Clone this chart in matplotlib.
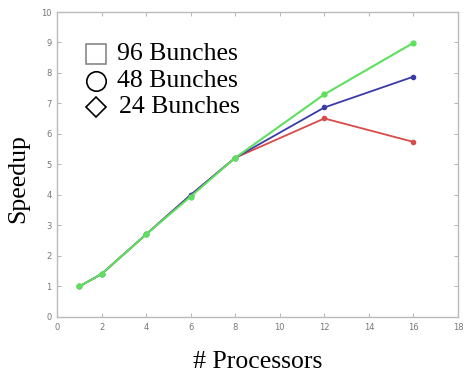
import matplotlib
matplotlib.use("Agg")
import matplotlib.pyplot as plt
from matplotlib.lines import Line2D

processors = [1, 2, 4, 6, 8, 12, 16]
speedup_96 = [1.0, 1.41, 2.71, 3.95, 5.22, 7.30, 8.99]
speedup_48 = [1.0, 1.41, 2.71, 4.0, 5.22, 6.87, 7.88]
speedup_24 = [1.0, 1.41, 2.71, 4.0, 5.22, 6.51, 5.74]
legend_labels = ["96 Bunches", "48 Bunches", "24 Bunches"]
xticks = list(range(0, 19, 2))
yticks = list(range(0, 11))

fig = plt.figure(figsize=(4.65, 3.75), dpi=100)
ax = fig.add_axes([0.1226, 0.1547, 0.8624, 0.8133])

ax.plot(processors, speedup_24, color="#d94a4a", lw=1.3, marker="o", ms=3, zorder=2)
ax.plot(processors, speedup_48, color="#3a3aa8", lw=1.3, marker="o", ms=3, zorder=3)
ax.plot(processors, speedup_96, color="#5ee05e", lw=1.5, marker="o", ms=3.5, zorder=4)

ax.set_xlim(0, 18)
ax.set_ylim(0, 10)
ax.set_xticks(xticks)
ax.set_yticks(yticks)
ax.tick_params(direction="in", length=3, width=0.6, colors="#aaaaaa",
               labelcolor="#777777", labelsize=6, top=True, right=True, pad=4)
for s in ax.spines.values():
    s.set_color("#bbbbbb")
    s.set_linewidth(1.0)

serif = "Liberation Serif"
markers = ["s", "o", "D"]
medges = ["#888888", "black", "black"]
msizes = [14, 14, 10.5]
ys = [0.861, 0.774, 0.690]
txs = [0.150, 0.150, 0.155]
for lab, m, me, msz, y, tx in zip(legend_labels, markers, medges, msizes, ys, txs):
    ax.add_line(Line2D([0.096], [y], transform=ax.transAxes, marker=m, ms=msz,
                       mfc="none", mec=me, mew=1.2, ls="none"))
    ax.text(tx, y, lab, transform=ax.transAxes, family=serif, fontsize=18.5,
            va="center", ha="left", color="black")

fig.text(0.039, 0.525, "Speedup", rotation=90, family=serif, fontsize=18.5,
         ha="center", va="center")
fig.text(0.555, 0.035, "# Processors", family=serif, fontsize=18.5,
         ha="center", va="center")

fig.savefig("out.png", dpi=100)
